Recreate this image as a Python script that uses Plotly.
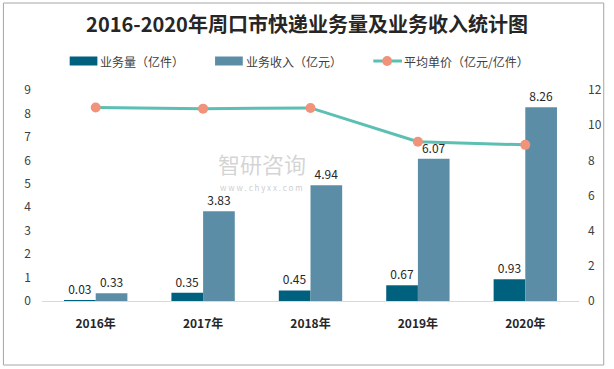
import plotly.graph_objects as go

years = ["2016年", "2017年", "2018年", "2019年", "2020年"]
volume = [0.03, 0.35, 0.45, 0.67, 0.93]
revenue = [0.33, 3.83, 4.94, 6.07, 8.26]
unit_price = [11.0, 10.94, 10.98, 9.06, 8.88]
series_names = ["业务量（亿件）", "业务收入（亿元）", "平均单价（亿元/亿件）"]
title_text = "2016-2020年周口市快递业务量及业务收入统计图"

C_VOL = "#00617F"
C_REV = "#5B8EA6"
C_LINE = "#5BBFB3"
C_MARK = "#F0937A"

W, H = 614, 369
L, R, T, B = 42, 29, 90, 68
pw, ph = W - L - R, H - T - B

def px(x):
    return (x - L) / pw

def py(y):
    return (H - B - y) / ph

font_family = "Noto Sans CJK SC, Noto Sans, sans-serif"

fig = go.Figure()
fig.add_trace(go.Bar(
    x=years, y=volume, name=series_names[0],
    marker=dict(color=C_VOL, line=dict(width=0)),
    text=[f"{v:.2f}" for v in volume], textposition="outside",
    textfont=dict(size=12, color="#262626"), cliponaxis=False,
))
fig.add_trace(go.Bar(
    x=years, y=revenue, name=series_names[1],
    marker=dict(color=C_REV, line=dict(width=0)),
    text=[f"{v:.2f}" for v in revenue], textposition="outside",
    textfont=dict(size=12, color="#262626"), cliponaxis=False,
))
fig.add_trace(go.Scatter(
    x=years, y=unit_price, name=series_names[2], yaxis="y2",
    mode="lines+markers",
    line=dict(color=C_LINE, width=3),
    marker=dict(color=C_MARK, size=10),
))

# legend drawn manually (wide swatches as in the reference)
legend_y = 61
shapes = [
    dict(type="rect", xref="paper", yref="paper",
         x0=px(3), x1=px(610), y0=py(365), y1=py(3),
         line=dict(color="#A6A6A6", width=1), fillcolor="rgba(0,0,0,0)",
         layer="below"),
    dict(type="rect", xref="paper", yref="paper",
         x0=px(70), x1=px(98), y0=py(65.5), y1=py(56.5),
         line=dict(width=0), fillcolor=C_VOL),
    dict(type="rect", xref="paper", yref="paper",
         x0=px(217), x1=px(245), y0=py(65.5), y1=py(56.5),
         line=dict(width=0), fillcolor=C_REV),
    dict(type="line", xref="paper", yref="paper",
         x0=px(377), x1=px(406), y0=py(legend_y), y1=py(legend_y),
         line=dict(color=C_LINE, width=3)),
    dict(type="circle", xref="paper", yref="paper",
         x0=px(386), x1=px(396), y0=py(legend_y + 5), y1=py(legend_y - 5),
         line=dict(width=0), fillcolor=C_MARK),
]

annotations = [
    dict(text=series_names[0], xref="paper", yref="paper",
         x=px(99), y=py(legend_y), xanchor="left", yanchor="middle",
         showarrow=False, font=dict(size=12, color="#404040")),
    dict(text=series_names[1], xref="paper", yref="paper",
         x=px(246), y=py(legend_y), xanchor="left", yanchor="middle",
         showarrow=False, font=dict(size=12, color="#404040")),
    dict(text=series_names[2], xref="paper", yref="paper",
         x=px(406), y=py(legend_y), xanchor="left", yanchor="middle",
         showarrow=False, font=dict(size=12, color="#404040")),
    dict(text="智研咨询", xref="paper", yref="paper",
         x=px(264), y=py(163), showarrow=False,
         font=dict(size=22, color="rgba(170,170,170,0.5)", family=font_family)),
    dict(text="w w w . c h y x x . c o m", xref="paper", yref="paper",
         x=px(264), y=py(187), showarrow=False,
         font=dict(size=8, color="rgba(170,170,170,0.6)", family=font_family)),
]

fig.update_layout(
    width=W, height=H,
    margin=dict(l=L, r=R, t=T, b=B),
    paper_bgcolor="white", plot_bgcolor="white",
    font=dict(family=font_family, size=12, color="#404040"),
    title=dict(
        text="<b>" + title_text + "</b>",
        x=0.5, xanchor="center", y=1 - 25 / H, yanchor="middle",
        font=dict(size=20, color="#262626", family=font_family),
    ),
    barmode="group", bargap=0.41, bargroupgap=0,
    showlegend=False,
    xaxis=dict(
        showgrid=False, showline=True, linecolor="#D9D9D9", linewidth=1,
        ticks="", tickfont=dict(size=12, color="#262626"),
        ticklabelstandoff=12,
        tickprefix="<b>", ticksuffix="</b>",
    ),
    yaxis=dict(
        range=[0, 9], dtick=1, showgrid=False, zeroline=False,
        showline=False, ticks="", tickfont=dict(size=12, color="#404040"),
        ticklabelstandoff=10,
    ),
    yaxis2=dict(
        range=[0, 12], dtick=2, overlaying="y", side="right",
        showgrid=False, zeroline=False, showline=False, ticks="",
        tickfont=dict(size=12, color="#404040"),
        ticklabelstandoff=8,
    ),
    shapes=shapes,
    annotations=annotations,
)

fig.write_html(
    "out.html",
    config={"displayModeBar": False},
    post_script="document.body.style.margin='0';document.body.style.padding='0';",
)
